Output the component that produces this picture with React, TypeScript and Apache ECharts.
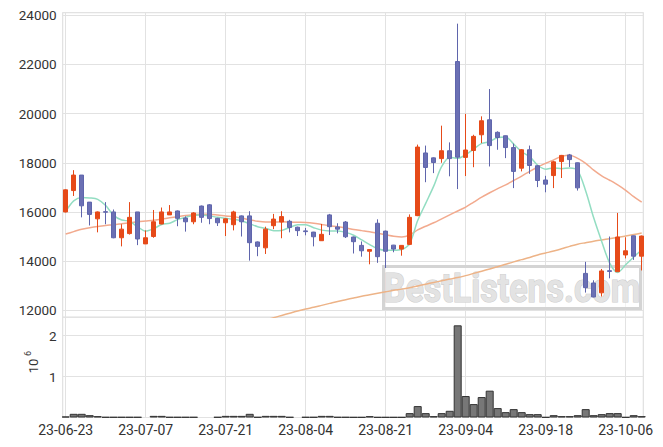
import React, { useEffect, useRef } from 'react';
import * as echarts from 'echarts';

const dates = [
  '23-06-23', '23-06-26', '23-06-27', '23-06-28', '23-06-29', '23-06-30',
  '23-07-03', '23-07-04', '23-07-05', '23-07-06', '23-07-07',
  '23-07-10', '23-07-11', '23-07-12', '23-07-13', '23-07-14',
  '23-07-17', '23-07-18', '23-07-19', '23-07-20', '23-07-21',
  '23-07-24', '23-07-25', '23-07-26', '23-07-27', '23-07-28',
  '23-07-31', '23-08-01', '23-08-02', '23-08-03', '23-08-04',
  '23-08-07', '23-08-08', '23-08-09', '23-08-10', '23-08-11',
  '23-08-14', '23-08-16', '23-08-17', '23-08-18', '23-08-21',
  '23-08-22', '23-08-23', '23-08-24', '23-08-25', '23-08-28',
  '23-08-29', '23-08-30', '23-08-31', '23-09-01', '23-09-04',
  '23-09-05', '23-09-06', '23-09-07', '23-09-08', '23-09-11',
  '23-09-12', '23-09-13', '23-09-14', '23-09-15', '23-09-18',
  '23-09-19', '23-09-20', '23-09-21', '23-09-22', '23-09-25',
  '23-09-26', '23-09-27', '23-10-04', '23-10-05', '23-10-06',
  '23-10-10', '23-10-11',
];

const opens = [
  16000, 16870, 17500, 16400, 15720, 16010, 16000, 14950, 15120, 16000,
  14700, 15000, 15510, 15880, 16040, 15750, 15600, 16240, 16290, 15740,
  15560, 15480, 15840, 15840, 14780, 14540, 15440, 15590, 15620, 15380,
  15230, 15180, 14830, 15880, 15390, 15590, 14980, 14640, 14400, 15540,
  15220, 14650, 14490, 14680, 15850, 18400, 18200, 18170, 18490, 22120,
  18220, 18500, 19140, 19750, 19240, 19100, 18620, 17780, 18530, 17880,
  17300, 17480, 18050, 18320, 18000, 13500, 13110, 12710, 13610, 13570,
  14250, 15030, 14200,
];
const closes = [
  16900, 17500, 16250, 15900, 16000, 15990, 14950, 15300, 15780, 14900,
  14950, 15600, 16000, 16000, 15740, 15600, 15960, 15780, 15730, 15560,
  15720, 16000, 15600, 14750, 14600, 15300, 15710, 15810, 15370, 15240,
  15200, 14990, 15090, 15400, 15300, 14990, 14790, 14420, 14470, 14180,
  14400, 14490, 14640, 15780, 18640, 17810, 18010, 18490, 18170, 18230,
  18520, 19075, 19710, 18700, 19030, 18620, 17650, 18530, 17890, 17280,
  17130, 18040, 18300, 18130, 16980, 12920, 12540, 13600, 13580, 14980,
  14420, 14200, 15020,
];
const lows = [
  15980, 16650, 15780, 15450, 15170, 15500, 14930, 14600, 15080, 14650,
  14700, 14950, 15500, 15880, 15420, 15200, 15500, 15560, 15500, 15430,
  15020, 15250, 15000, 14020, 14200, 14290, 15300, 14930, 15170, 15020,
  15050, 14600, 14820, 15060, 15130, 14940, 14310, 14180, 13870, 13930,
  13720, 14360, 14220, 14650, 15830, 17210, 17580, 18000, 17450, 16930,
  17460, 17820, 18800, 17850, 18530, 18190, 16970, 17650, 17550, 17010,
  16800, 16970, 17380, 17830, 16870, 12720, 12530, 12560, 13300, 13560,
  14110, 14050, 13620,
];
const highs = [
  16920, 17700, 17500, 16400, 16020, 16400, 16100, 15500, 16400, 16000,
  15250, 16080, 16180, 16280, 16060, 15820, 15990, 16260, 16320, 15760,
  15740, 16050, 15860, 16030, 14800, 15400, 15920, 16030, 15680, 15400,
  15350, 15190, 15510, 15920, 15540, 15630, 15000, 14800, 14470, 15700,
  15240, 14660, 14650, 15900, 18740, 18700, 18220, 19510, 18830, 23660,
  19990, 19140, 19890, 21000, 19280, 19110, 18780, 18560, 18700, 17900,
  17470, 18080, 18320, 18360, 18010, 13970, 13220, 13680, 15000, 15960,
  14970, 15040, 15040,
];

const volumes = [
  25000, 90000, 90000, 57000, 33000, 10000, 10000, 10000, 10000, 10000,
  0, 40000, 40000, 10000, 10000, 10000, 10000, 0, 0, 10000,
  40000, 40000, 40000, 90000, 10000, 40000, 40000, 40000, 10000, 0,
  10000, 10000, 40000, 40000, 10000, 10000, 8000, 8000, 33000, 8000,
  8000, 8000, 8000, 107000, 279000, 107000, 33000, 107000, 164000, 2254000,
  525000, 328000, 500000, 656000, 230000, 131000, 205000, 131000, 82000, 82000,
  8000, 57000, 33000, 33000, 57000, 205000, 57000, 82000, 107000, 107000,
  8000, 57000, 33000,
];

const ma5 = [
  16020, 16450, 16590, 16570, 16510, 16260, 15860, 15670, 15620, 15390,
  15220, 15320, 15490, 15540, 15690, 15780, 15870, 15880, 15840, 15780,
  15740, 15700, 15630, 15520, 15400, 15330, 15240, 15250, 15370, 15480,
  15480, 15360, 15260, 15230, 15230, 15170, 15050, 14860, 14670, 14500,
  14440, 14440, 14470, 14720, 15650, 16350, 17050, 17850, 18230, 18180,
  18330, 18560, 18790, 18860, 19030, 19050, 18760, 18450, 18250, 17900,
  17740, 17790, 17760, 17790, 17680, 16850, 15760, 14800, 13920, 13540,
  13850, 14170, 14450,
];
const ma20 = [
  15100, 15200, 15300, 15360, 15410, 15450, 15480, 15520, 15560, 15600,
  15630, 15660, 15710, 15760, 15810, 15860, 15890, 15910, 15910, 15880,
  15840, 15810, 15750, 15680, 15620, 15590, 15590, 15600, 15590, 15580,
  15570, 15540, 15490, 15440, 15400, 15350, 15290, 15240, 15190, 15130,
  15070, 15010, 14980, 15060, 15270, 15420, 15560, 15720, 15880, 16040,
  16200, 16400, 16600, 16780, 16950, 17100, 17280, 17460, 17650, 17830,
  17980, 18120, 18260, 18310, 18180, 17980, 17700, 17470, 17290, 17100,
  16880, 16620, 16400,
];
const maLong = [
  null, null, null, null, null, null, null, null, null, null,
  null, null, null, null, null, null, null, null, null, null,
  null, null, null, null, null, 11600, 11700, 11790, 11880, 11970,
  12050, 12120, 12200, 12280, 12360, 12430, 12500, 12570, 12630, 12690,
  12750, 12810, 12860, 12920, 12990, 13060, 13130, 13200, 13270, 13330,
  13410, 13500, 13590, 13680, 13770, 13870, 13970, 14060, 14150, 14250,
  14330, 14410, 14500, 14600, 14690, 14750, 14810, 14860, 14910, 14960,
  15020, 15080, 15140,
];

const UP = '#E64A19';
const DOWN = '#6B70B4';
const FONT = 'Roboto';

export default function App() {
  const ref = useRef<HTMLDivElement>(null);
  useEffect(() => {
    const chart = echarts.init(ref.current!, null, { renderer: 'svg' });
    const idx = dates.map((_, i) => i);
    const candle = idx.map((i) => [i, opens[i], closes[i], lows[i], highs[i]]);
    const toLine = (arr: (number | null)[]) =>
      idx.map((i) => [i, arr[i] == null ? '-' : arr[i]]);
    const vol = idx.map((i) => [i, volumes[i] > 0 ? volumes[i] : '-']);

    const gridLeft = 62.7;
    const gridWidth = 580.6;
    const splitColor = '#e2e2e2';
    const xBase = {
      type: 'value',
      min: -0.375,
      max: 72.2,
      axisLine: { show: false },
      axisTick: { show: false },
      splitLine: { show: true, lineStyle: { color: splitColor, width: 1 } },
    };

    chart.setOption({
      animation: false,
      backgroundColor: '#ffffff',
      textStyle: { fontFamily: FONT },
      grid: [
        {
          left: gridLeft, top: 12.7, width: gridWidth, height: 304.6,
          show: true, borderColor: '#d2d2d2', borderWidth: 1, backgroundColor: 'transparent',
        },
        {
          left: gridLeft, top: 317.3, width: gridWidth, height: 100.2,
          show: true, borderColor: '#d2d2d2', borderWidth: 1, backgroundColor: 'transparent',
        },
      ],
      xAxis: [
        { ...xBase, gridIndex: 0, axisLabel: { show: false } },
        {
          ...xBase,
          gridIndex: 1,
          axisLabel: {
            show: true,
            margin: 5,
            fontSize: 14,
            color: '#333',
            fontFamily: FONT,
            formatter: (v: number) => (Number.isInteger(v) && dates[v] ? dates[v] : ''),
          },
        },
      ],
      yAxis: [
        {
          type: 'value',
          gridIndex: 0,
          min: 11714,
          max: 24106,
          axisLine: { show: false },
          axisTick: { show: false },
          splitLine: { show: true, lineStyle: { color: splitColor, width: 1 } },
          axisLabel: {
            margin: 6,
            fontSize: 13.5,
            color: '#333',
            fontFamily: FONT,
            formatter: (v: number) => (v % 2000 === 0 ? String(v) : ''),
          },
        },
        {
          type: 'value',
          gridIndex: 1,
          min: 0,
          max: 2450000,
          interval: 1000000,
          axisLine: { show: false },
          axisTick: { show: false },
          splitLine: { show: true, lineStyle: { color: splitColor, width: 1 } },
          axisLabel: {
            margin: 6,
            fontSize: 13.5,
            color: '#333',
            fontFamily: FONT,
            formatter: (v: number) => (v > 0 && v % 1000000 === 0 ? String(v / 1000000) : ''),
          },
        },
      ],
      graphic: [
        {
          type: 'rect',
          z: 1,
          shape: { x: 383.5, y: 266.5, width: 257, height: 42 },
          style: { fill: 'rgba(255,255,255,0.55)', stroke: '#d4d4d4', lineWidth: 3 },
          silent: true,
        },
        {
          type: 'text',
          z: 1,
          x: 512,
          y: 288,
          scaleY: 1.2,
          style: {
            text: 'BestListens.com',
            font: `bold 34px ${FONT}`,
            fill: '#e3e3e3',
            stroke: '#cdcdcd',
            lineWidth: 1,
            align: 'center',
            verticalAlign: 'middle',
          },
          silent: true,
        },
        {
          type: 'text',
          x: 33,
          y: 366,
          rotation: Math.PI / 2,
          style: {
            text: '10',
            font: `13px ${FONT}`,
            fill: '#333',
            align: 'center',
            verticalAlign: 'middle',
          },
        },
        {
          type: 'text',
          x: 27.5,
          y: 353.5,
          rotation: Math.PI / 2,
          style: {
            text: '6',
            font: `9px ${FONT}`,
            fill: '#333',
            align: 'center',
            verticalAlign: 'middle',
          },
        },
      ],
      series: [
        {
          name: 'MA long',
          type: 'line',
          xAxisIndex: 0,
          yAxisIndex: 0,
          data: toLine(maLong),
          showSymbol: false,
          smooth: 0.3,
          lineStyle: { color: '#EDB387', width: 1.5 },
          clip: true,
          z: 2,
        },
        {
          name: 'MA20',
          type: 'line',
          xAxisIndex: 0,
          yAxisIndex: 0,
          data: toLine(ma20),
          showSymbol: false,
          smooth: 0.3,
          lineStyle: { color: '#F2AA8E', width: 1.5 },
          clip: true,
          z: 2,
        },
        {
          name: 'MA5',
          type: 'line',
          xAxisIndex: 0,
          yAxisIndex: 0,
          data: toLine(ma5),
          showSymbol: false,
          smooth: 0.3,
          lineStyle: { color: '#93DDC2', width: 1.5 },
          clip: true,
          z: 2,
        },
        {
          name: 'price',
          type: 'candlestick',
          xAxisIndex: 0,
          yAxisIndex: 0,
          data: candle,
          barWidth: 5,
          clip: true,
          z: 3,
          itemStyle: {
            color: UP,
            color0: DOWN,
            borderColor: UP,
            borderColor0: '#5F65AC',
            borderWidth: 1,
          },
        },
        {
          name: 'volume',
          type: 'bar',
          xAxisIndex: 1,
          yAxisIndex: 1,
          data: vol,
          barCategoryGap: '0%',
          itemStyle: { color: '#777777', borderColor: '#333333', borderWidth: 1 },
          z: 3,
        },
      ],
    });
    return () => chart.dispose();
  }, []);
  return (
    <div
      ref={ref}
      style={{ position: 'fixed', left: 0, top: 0, width: 663, height: 447, background: '#fff' }}
    />
  );
}
